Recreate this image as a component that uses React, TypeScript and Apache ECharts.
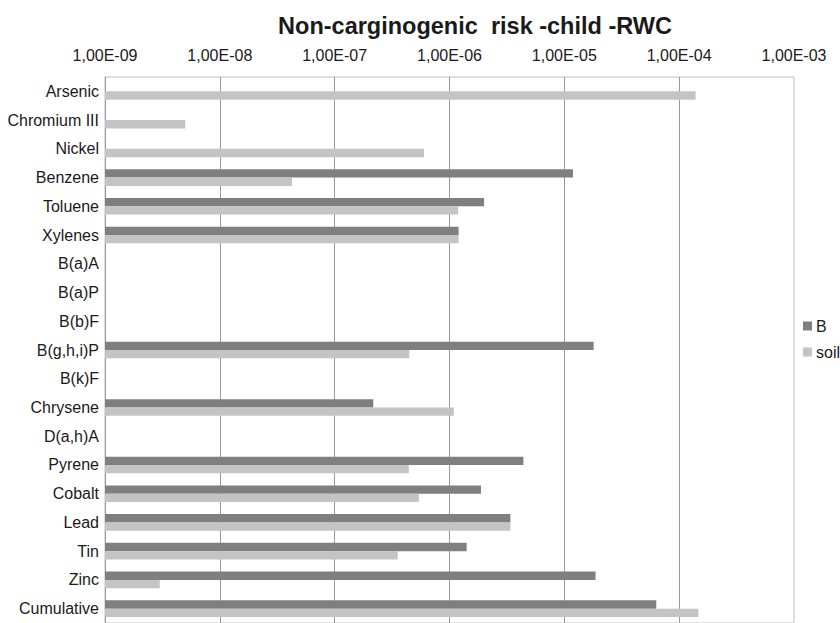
import React, { useEffect, useRef } from "react";
import * as echarts from "echarts";

const TITLE = "Non-carginogenic  risk -child -RWC";

const categories = [
  "Arsenic",
  "Chromium III",
  "Nickel",
  "Benzene",
  "Toluene",
  "Xylenes",
  "B(a)A",
  "B(a)P",
  "B(b)F",
  "B(g,h,i)P",
  "B(k)F",
  "Chrysene",
  "D(a,h)A",
  "Pyrene",
  "Cobalt",
  "Lead",
  "Tin",
  "Zinc",
  "Cumulative",
];

const seriesB: (number | null)[] = [
  null, null, null, 1.19e-5, 2.0e-6, 1.2e-6, null, null, null, 1.8e-5,
  null, 2.17e-7, null, 4.4e-6, 1.88e-6, 3.39e-6, 1.41e-6, 1.87e-5, 6.32e-5,
];

const seriesSoil: (number | null)[] = [
  1.39e-4, 5.0e-9, 6.0e-7, 4.25e-8, 1.19e-6, 1.2e-6, null, null, null, 4.47e-7,
  null, 1.09e-6, null, 4.42e-7, 5.42e-7, 3.39e-6, 3.54e-7, 3.0e-9, 1.47e-4,
];

const tickLabels = [
  "1,00E-09",
  "1,00E-08",
  "1,00E-07",
  "1,00E-06",
  "1,00E-05",
  "1,00E-04",
  "1,00E-03",
];

const AXIS_MIN = 1e-9;

// log-decade position relative to the axis minimum
const toDecades = (v: number | null) =>
  v == null ? "-" : Math.log10(v) - Math.log10(AXIS_MIN);

const FONT = "'Liberation Sans', Arial, sans-serif";

export default function App() {
  const ref = useRef<HTMLDivElement>(null);

  useEffect(() => {
    document.body.style.margin = "0";
    const chart = echarts.init(ref.current!, undefined, { renderer: "svg" });
    chart.setOption({
      animation: false,
      backgroundColor: "#ffffff",
      textStyle: { fontFamily: FONT },
      title: {
        text: TITLE,
        left: 470,
        top: 9,
        textAlign: "center",
        textStyle: {
          fontFamily: FONT,
          fontSize: 23.5,
          fontWeight: "bold",
          color: "#1a1a1a",
        },
      },
      legend: {
        orient: "vertical",
        left: 803,
        top: 318,
        padding: 0,
        itemWidth: 9,
        itemHeight: 9,
        itemGap: 10,
        icon: "rect",
        textStyle: { fontFamily: FONT, fontSize: 16, color: "#1a1a1a", padding: [0, 0, 0, -1] },
        data: ["B", "soil"],
      },
      grid: {
        left: 105,
        top: 77,
        width: 689,
        height: 553,
        show: true,
        borderColor: "#c0c0c0",
        borderWidth: 1,
        containLabel: false,
      },
      xAxis: {
        type: "value",
        position: "top",
        min: 0,
        max: 6,
        interval: 1,
        axisLine: { show: false },
        axisTick: { show: false },
        axisLabel: {
          margin: 14,
          fontFamily: FONT,
          fontSize: 16,
          color: "#1a1a1a",
          formatter: (v: number) => tickLabels[Math.round(v)] ?? "",
        },
        splitLine: {
          show: true,
          showMinLine: false,
          showMaxLine: false,
          lineStyle: { color: "#9a9a9a", width: 1 },
        },
      },
      yAxis: {
        type: "category",
        inverse: true,
        data: categories,
        axisLine: { show: true, lineStyle: { color: "#9a9a9a", width: 1 } },
        axisTick: { show: false },
        axisLabel: {
          margin: 6,
          fontFamily: FONT,
          fontSize: 16,
          color: "#1a1a1a",
        },
        splitLine: { show: false },
      },
      series: [
        {
          name: "B",
          type: "bar",
          data: seriesB.map(toDecades),
          barWidth: 8.3,
          barGap: "0%",
          itemStyle: { color: "#7f7f81" },
        },
        {
          name: "soil",
          type: "bar",
          data: seriesSoil.map(toDecades),
          barWidth: 8.3,
          barGap: "0%",
          itemStyle: { color: "#c4c4c4" },
        },
      ],
    });
    return () => chart.dispose();
  }, []);

  return (
    <div
      ref={ref}
      style={{ position: "absolute", left: 0, top: 0, width: 840, height: 623 }}
    />
  );
}
